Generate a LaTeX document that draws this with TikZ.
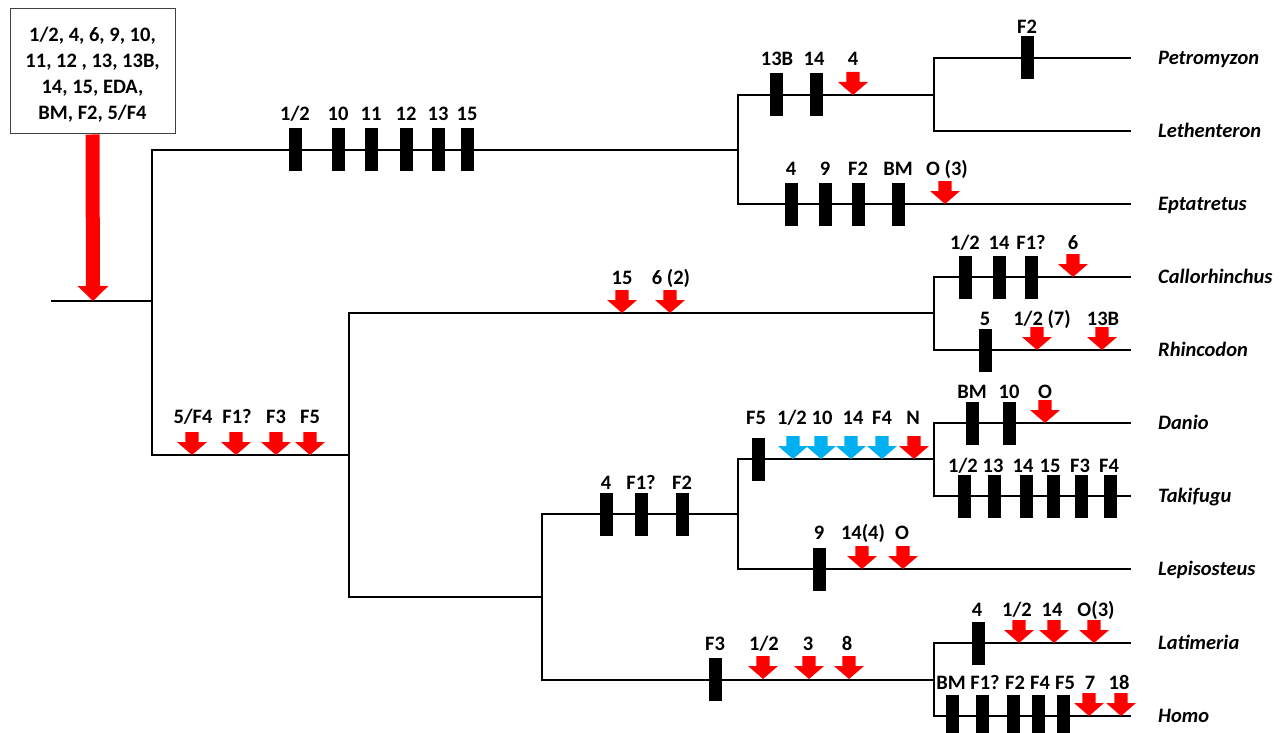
\documentclass[tikz,border=0pt]{standalone}
\usepackage{fontspec}
\setmainfont{Carlito}
\usetikzlibrary{arrows.meta,calc}
\definecolor{mred}{RGB}{255,0,0}
\definecolor{mblue}{RGB}{0,176,240}
\definecolor{boxline}{RGB}{64,64,64}

\newcommand\lblfont{\fontsize{20.5}{24}\selectfont\bfseries}
\newcommand\taxfont{\fontsize{20.5}{24}\selectfont\bfseries\itshape}

% character-state bars: #1 = branch y, #2 = label centre y, #3 = list x/label x/text
\newcommand\barmarks[3]{%
  \foreach \mx/\lx/\mt in {#3}{%
    \node[charbar] (bar\mx-#1) at (\mx,#1) {};
    \node[lbl] (barlbl\mx-#1) at (\lx,#2+6.5) {\mt};}}
% down arrows: #1 = colour, #2 = branch y, #3 = label centre y, #4 = list
\newcommand\arrowmarks[4]{%
  \foreach \mx/\lx/\mt in {#4}{%
    \pic[#1] at (\mx,#2) {downarrow};
    \node[lbl] (arrlbl\mx-#2) at (\lx,#3+6.5) {\mt};}}

\begin{document}
\begin{tikzpicture}[x=1pt,y=-1pt,
  tree/.style={line width=2.4pt, line join=miter, line cap=rect},
  charbar/.style={fill=black, minimum width=13pt, minimum height=43pt, inner sep=0pt, outer sep=0pt},
  lbl/.style={font=\lblfont, anchor=base, inner sep=0pt},
  taxon/.style={font=\taxfont, anchor=base west, inner sep=0pt},
  downarrow/.pic={\fill (-6.7,-23) -- (6.7,-23) -- (6.7,-13) -- (15,-13) -- (0,0)
                   -- (-15,-13) -- (-6.7,-13) -- cycle;}]
\useasboundingbox (0,0) rectangle (1280,733);

% junctions (x of the split, y of the incoming branch)
\coordinate (J0) at (152,301);
\coordinate (A) at (738,150);
\coordinate (B) at (934,95);
\coordinate (C) at (349,455);
\coordinate (D) at (934,313);
\coordinate (E) at (542,597);
\coordinate (F) at (738,514);
\coordinate (G) at (934,459);
\coordinate (H) at (934,680);
% tips
\coordinate (Petromyzon) at (1130,58);
\coordinate (Lethenteron) at (1130,131);
\coordinate (Eptatretus) at (1130,204);
\coordinate (Callorhinchus) at (1130,277);
\coordinate (Rhincodon) at (1130,350);
\coordinate (Danio) at (1130,423);
\coordinate (Takifugu) at (1130,496);
\coordinate (Lepisosteus) at (1130,569);
\coordinate (Latimeria) at (1130,643);
\coordinate (Homo) at (1130,716);
\coordinate (root) at (52,301);

% tree
\draw[tree] (root) -- (J0);
\draw[tree] (J0) |- (A);  \draw[tree] (J0) |- (C);
\draw[tree] (A) |- (B);   \draw[tree] (A) |- (Eptatretus);
\draw[tree] (B) |- (Petromyzon); \draw[tree] (B) |- (Lethenteron);
\draw[tree] (C) |- (D);   \draw[tree] (C) |- (E);
\draw[tree] (D) |- (Callorhinchus); \draw[tree] (D) |- (Rhincodon);
\draw[tree] (E) |- (F);   \draw[tree] (E) |- (H);
\draw[tree] (F) |- (G);   \draw[tree] (F) |- (Lepisosteus);
\draw[tree] (G) |- (Danio); \draw[tree] (G) |- (Takifugu);
\draw[tree] (H) |- (Latimeria); \draw[tree] (H) |- (Homo);

% taxon names
\foreach \t in {Petromyzon,Lethenteron,Eptatretus,Callorhinchus,Rhincodon,
                Danio,Takifugu,Lepisosteus,Latimeria,Homo}
  \node[taxon] (name-\t) at ($(\t)+(28,6.5)$) {\t};

% ancestral repertoire
\node[draw=boxline, line width=1pt, minimum width=165pt, minimum height=125pt,
      inner sep=0pt] (box) at (92.5,71.5) {};
\node[align=center, inner sep=0pt, font=\fontsize{20.5}{26.2}\selectfont\bfseries]
  (boxtext) at (92.5,74.5) {1/2, 4, 6, 9, 10,\\11, 12 , 13, 13B,\\14, 15, EDA,\\BM, F2, 5/F4};
\coordinate (rootarrow) at (93,301);
\draw[mred, line width=14pt, -{Triangle[width=30pt,length=15pt]}] (box.south) -- (rootarrow);

% gains (bars) and losses (arrows)
\barmarks{150}{114}{295/295/{1/2},338/338/10,371/371/11,406/406/12,438/438/13,467/467/15}
\barmarks{95}{59}{776/777/13B,816/814/14}
\arrowmarks{mred}{95}{59}{853/853/4}
\barmarks{58}{27}{1027/1027/F2}
\barmarks{204}{169}{791/791/4,825/825/9,858/858/F2,898/898/BM}
\arrowmarks{mred}{204}{169}{945/947/{O (3)}}

\arrowmarks{mred}{313}{278}{622/622/15,670/671/{6 (2)}}
\barmarks{277}{243}{965/965/{1/2},999/999/14,1031/1031/F1?}
\arrowmarks{mred}{277}{243}{1073/1073/6}
\barmarks{350}{319}{985/985/5}
\arrowmarks{mred}{350}{319}{1037/1042/{1/2 (7)},1102/1103/13B}

\arrowmarks{mred}{455}{417}{192/193/{5/F4},236/237/F1?,276/276/F3,310/310/F5}

\barmarks{514}{483}{606/606/4,641/641/F1?,682/682/F2}
\barmarks{459}{418}{758/756/F5}
\arrowmarks{mblue}{459}{418}{793/792/{1/2},821/822/10,851/853/14,882/882/F4}
\arrowmarks{mred}{459}{418}{914/913/N}
\barmarks{423}{392}{972/972/BM,1009/1009/10}
\arrowmarks{mred}{423}{392}{1045/1045/O}
\barmarks{496}{466}{964/963/{1/2},994/993/13,1026/1023/14,1053/1050/15,1081/1080/F3,1110/1109/F4}
\barmarks{569}{533}{819/819/9}
\arrowmarks{mred}{569}{533}{862/863/14(4),903/902/O}

\barmarks{679}{644}{715/715/F3}
\arrowmarks{mred}{679}{644}{763/764/{1/2},809/808/3,849/847/8}
\barmarks{643}{610}{978/977/4}
\arrowmarks{mred}{643}{610}{1019/1017/{1/2},1054/1052/14,1094/1096/O(3)}
\barmarks{716}{683}{952/951/BM,982/985/F1?,1013/1015/F2,1038/1040/F4,1063/1065/F5}
\arrowmarks{mred}{716}{683}{1089/1090/7,1121/1119/18}
\end{tikzpicture}
\end{document}
